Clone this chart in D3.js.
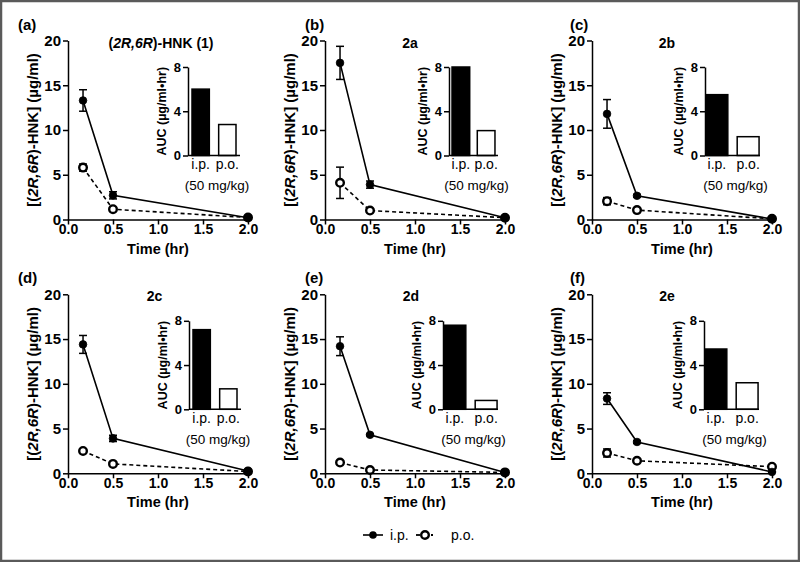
<!DOCTYPE html>
<html><head><meta charset="utf-8">
<script src="https://cdn.jsdelivr.net/npm/d3@7"></script>
<style>
body{margin:0;background:#fff}
svg{display:block}
text{font-family:"Liberation Sans",Arial,Helvetica,sans-serif;fill:#000}
</style>
</head><body>
<svg id="chart" width="800" height="562"></svg>
<script>
// ---------------- data ----------------
const panelLetters = ["(a)", "(b)", "(c)", "(d)", "(e)", "(f)"];
const compoundTitles = ["(2R,6R)-HNK (1)", "2a", "2b", "2c", "2d", "2e"];
const timePoints = [0.167, 0.5, 2.0];
const ipMean = [[13.3, 2.7, 0.2], [17.5, 3.9, 0.2], [11.8, 2.65, 0.05], [14.4, 3.9, 0.25], [14.2, 4.3, 0.1], [8.35, 3.5, 0.15]];
const ipErr  = [[1.2, 0.4, 0.05], [1.85, 0.4, 0.05], [1.6, 0.15, 0.02], [1.0, 0.35, 0.05], [1.05, 0.1, 0.02], [0.65, 0.15, 0.02]];
const poMean = [[5.8, 1.15, 0.22], [4.1, 1.0, 0.2], [2.05, 1.05, 0.08], [2.5, 1.05, 0.2], [1.2, 0.37, 0.1], [2.27, 1.4, 0.74]];
const poErr  = [[0.4, 0.2, 0.05], [1.75, 0.15, 0.05], [0.4, 0.15, 0.02], [0.2, 0.1, 0.05], [0.1, 0.1, 0.02], [0.45, 0.15, 0.1]];
const aucRoutes = ["i.p.", "p.o."];
const aucIP = [6.0, 8.0, 5.5, 7.2, 7.6, 5.45];
const aucPO = [2.8, 2.25, 1.7, 1.85, 0.8, 2.4];
const xTicks = [0, 0.5, 1.0, 1.5, 2.0];
const yTicks = [0, 5, 10, 15, 20];
const aucTicks = [0, 4, 8];
const doseLabel = "(50 mg/kg)";
const xTitle = "Time (hr)";
const legendLabels = ["i.p.", "p.o."];

// ---------------- layout ----------------
const W = 800, H = 562;
const colX = [68, 325, 592];
const rowTop = [40.5, 294.3];
const plotW = 180, plotH = 179;
const letterX = [18, 305, 570];
const titleDX = [93, 85, 75, 86.5, 86, 75];
const insetDX = [120, 124, 113, 121, 118, 112];
const insetW = [52, 49, 55, 52, 55, 55];
const insetPadIn = [0.35, 0.3, 0.3, 0.35, 0.3, 0.3];
const insetPadOut = [0.15, 0.12, 0.03, 0.15, 0.03, 0.03];
const insetTopDY = 26.5, insetH = 88.5;

const svg = d3.select("#chart");
svg.append("rect").attr("x", 1).attr("y", 1).attr("width", W - 2).attr("height", H - 2)
  .attr("fill", "#fff").attr("stroke", "#5a5a5a").attr("stroke-width", 2.5);

const x = d3.scaleLinear().domain([0, 2]).range([0, plotW]);
const y = d3.scaleLinear().domain([0, 20]).range([plotH, 0]);

function styleAxis(g, fs) {
  g.select(".domain").attr("stroke", "#000").attr("stroke-width", 1.5);
  g.selectAll(".tick line").attr("stroke", "#000").attr("stroke-width", 1.5);
  g.selectAll(".tick text").attr("font-size", fs).attr("font-weight", "bold")
    .attr("font-family", '"Liberation Sans",Arial,sans-serif').attr("fill", "#000");
}

panelLetters.forEach((letter, i) => {
  const col = i % 3, row = Math.floor(i / 3);
  const ox = colX[col], oy = rowTop[row];
  const g = svg.append("g").attr("transform", `translate(${ox},${oy})`);

  // panel letter
  svg.append("text").attr("x", letterX[col]).attr("y", oy - 11)
    .attr("font-size", 15).attr("font-weight", "bold").text(letter);

  // title
  const tt = g.append("text").attr("x", titleDX[i]).attr("y", 7)
    .attr("text-anchor", "middle").attr("font-size", 14).attr("font-weight", "bold");
  const t = compoundTitles[i];
  const m = t.match(/^\((2R,6R)\)(.*)$/);
  if (m) {
    tt.append("tspan").text("(");
    tt.append("tspan").attr("font-style", "italic").text(m[1]);
    tt.append("tspan").text(")" + m[2]);
  } else tt.text(t);

  // axes
  const gx = g.append("g").attr("transform", `translate(0,${plotH})`)
    .call(d3.axisBottom(x).tickValues(xTicks).tickFormat(d3.format(".1f")).tickSize(5).tickSizeOuter(0).tickPadding(0));
  styleAxis(gx, 14);
  const gy = g.append("g")
    .call(d3.axisLeft(y).tickValues(yTicks).tickSize(5).tickSizeOuter(0).tickPadding(2));
  styleAxis(gy, 15);

  g.append("text").attr("x", plotW / 2).attr("y", plotH + 34).attr("text-anchor", "middle")
    .attr("font-size", 14.5).attr("font-weight", "bold").text(xTitle);

  const yt = g.append("text").attr("transform", `translate(-36,${plotH / 2}) rotate(-90)`)
    .attr("text-anchor", "middle").attr("dominant-baseline", "central")
    .attr("font-size", 15).attr("font-weight", "bold");
  yt.append("tspan").text("[(");
  yt.append("tspan").attr("font-style", "italic").text("2R,6R");
  yt.append("tspan").text(")-HNK] (\u00b5g/ml)");

  // series
  const series = [
    { mean: poMean[i], err: poErr[i], dash: "4,3", open: true },
    { mean: ipMean[i], err: ipErr[i], dash: null, open: false }
  ];
  const line = d3.line().x(d => x(d[0])).y(d => y(d[1]));
  series.forEach(s => {
    const pts = timePoints.map((tp, k) => [tp, s.mean[k], s.err[k]]);
    g.append("path").datum(pts).attr("d", line).attr("fill", "none")
      .attr("stroke", "#000").attr("stroke-width", 1.6)
      .attr("stroke-dasharray", s.dash);
    const eb = g.append("g");
    pts.forEach(p => {
      const cx = x(p[0]), y1 = y(p[1] + p[2]), y2 = y(Math.max(0, p[1] - p[2]));
      eb.append("line").attr("x1", cx).attr("x2", cx).attr("y1", y1).attr("y2", y2)
        .attr("stroke", "#000").attr("stroke-width", 1.5);
      [y1, y2].forEach(yy => eb.append("line").attr("x1", cx - 4).attr("x2", cx + 4)
        .attr("y1", yy).attr("y2", yy).attr("stroke", "#000").attr("stroke-width", 1.5));
    });
    g.append("g").selectAll("circle").data(pts).join("circle")
      .attr("cx", d => x(d[0])).attr("cy", d => y(d[1]))
      .attr("r", 3.8)
      .attr("fill", s.open ? "#fff" : "#000")
      .attr("stroke", "#000").attr("stroke-width", s.open ? 2.4 : 0.8);
  });

  // inset
  const ig = g.append("g").attr("transform", `translate(${insetDX[i]},${insetTopDY})`);
  const ib = d3.scaleBand().domain(aucRoutes).range([0, insetW[i]])
    .paddingInner(insetPadIn[i]).paddingOuter(insetPadOut[i]);
  const iy = d3.scaleLinear().domain([0, 8]).range([insetH, 0]);
  const vals = [aucIP[i], aucPO[i]];
  ig.selectAll("rect").data(aucRoutes).join("rect")
    .attr("x", d => ib(d)).attr("width", ib.bandwidth())
    .attr("y", (d, k) => iy(vals[k])).attr("height", (d, k) => insetH - iy(vals[k]))
    .attr("fill", (d, k) => k === 0 ? "#000" : "#fff")
    .attr("stroke", "#000").attr("stroke-width", 1.5);
  const giy = ig.append("g").call(d3.axisLeft(iy).tickValues(aucTicks).tickSize(5).tickSizeOuter(0).tickPadding(2));
  styleAxis(giy, 13);
  ig.append("line").attr("x1", 0).attr("x2", insetW[i]).attr("y1", insetH).attr("y2", insetH)
    .attr("stroke", "#000").attr("stroke-width", 1.5);
  ig.selectAll(".cat").data(aucRoutes).join("text").attr("class", "cat")
    .attr("x", d => ib(d) + ib.bandwidth() / 2).attr("y", insetH + 13.5)
    .attr("text-anchor", "middle").attr("font-size", 14).text(d => d);
  ig.append("text").attr("x", insetW[i] / 2 + 3).attr("y", insetH + 34.5)
    .attr("text-anchor", "middle").attr("font-size", 13.5).text(doseLabel);
  ig.append("text").attr("transform", `translate(-26,${insetH / 2}) rotate(-90)`)
    .attr("text-anchor", "middle").attr("dominant-baseline", "central")
    .attr("font-size", 12.5).attr("font-weight", "bold").text("AUC (\u00b5g/ml\u2022hr)");
});

// legend
const lg = svg.append("g").attr("transform", "translate(0,535)");
lg.append("line").attr("x1", 363).attr("x2", 383).attr("stroke", "#000").attr("stroke-width", 1.6);
lg.append("circle").attr("cx", 373).attr("r", 3.8).attr("fill", "#000");
lg.append("text").attr("x", 390).attr("y", 5).attr("font-size", 14).text(legendLabels[0]);
lg.append("line").attr("x1", 416).attr("x2", 420).attr("stroke", "#000").attr("stroke-width", 1.8);
lg.append("line").attr("x1", 431).attr("x2", 433).attr("stroke", "#000").attr("stroke-width", 1.8);
lg.append("circle").attr("cx", 425).attr("r", 3.8).attr("fill", "#fff").attr("stroke", "#000").attr("stroke-width", 2.4);
lg.append("text").attr("x", 451).attr("y", 5).attr("font-size", 14).text(legendLabels[1]);
</script>
</body></html>
